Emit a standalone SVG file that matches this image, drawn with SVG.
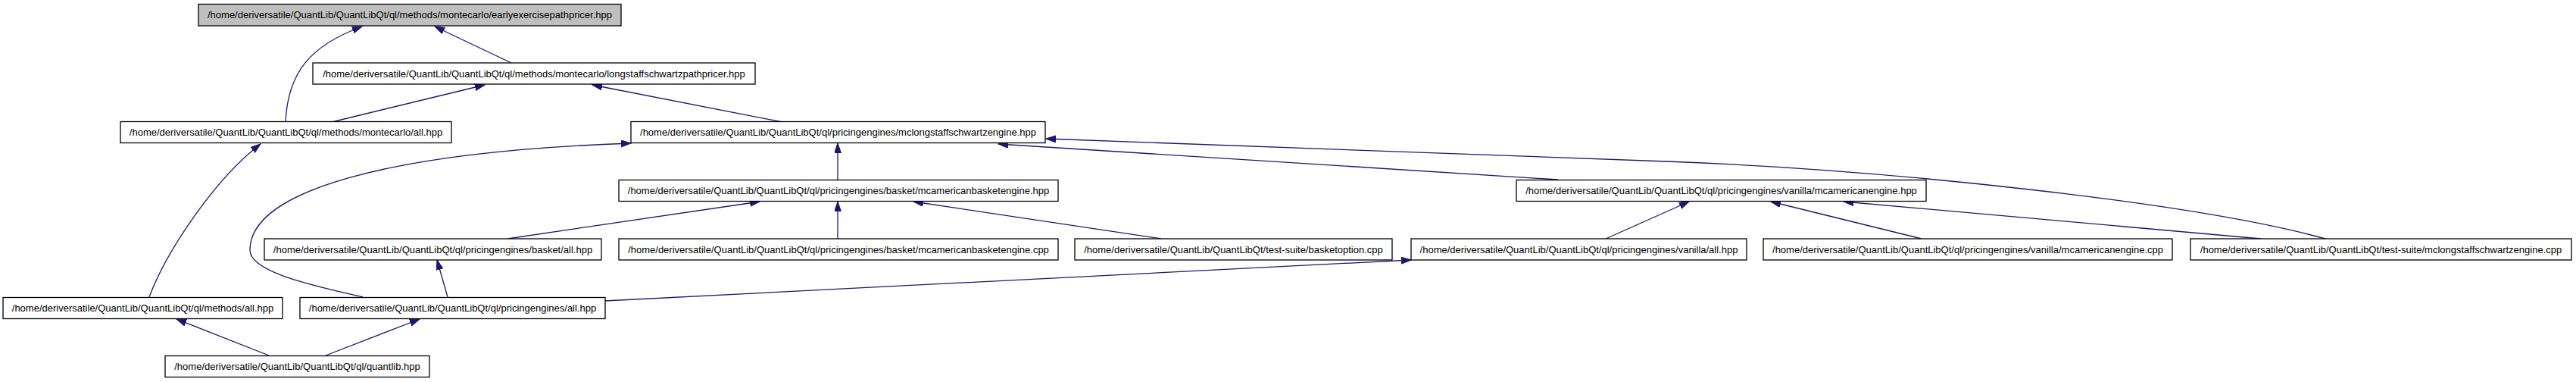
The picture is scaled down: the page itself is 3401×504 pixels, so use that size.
<svg xmlns="http://www.w3.org/2000/svg" width="3401" height="504" viewBox="0 0 3401 504">
<style>
.n rect{fill:#ffffff;stroke:#000000;stroke-width:1.3}
.n.root rect{fill:#bfbfbf}
.n text{font-family:"Liberation Sans",Arial,Helvetica,sans-serif;font-size:13px;fill:#000000;text-anchor:middle}
.e path{fill:none;stroke:#191970;stroke-width:1.3;marker-end:url(#ah)}
</style>
<defs>
<marker id="ah" markerUnits="userSpaceOnUse" markerWidth="14" markerHeight="10" refX="13" refY="4.5" orient="auto">
<path d="M0,0 L13,4.5 L0,9 z" fill="#191970" stroke="#191970" stroke-width="1"/>
</marker>
</defs>
<rect x="0" y="0" width="3401" height="504" fill="#ffffff"/>
<g id="connectors" class="e">
<path d="M377,161 C380,95 410,60 478,35"/>
<path d="M675,83 L574,35"/>
<path d="M438,161 L640,112"/>
<path d="M1033,161 L782,112"/>
<path d="M197,392 C220,330 285,235 344,190"/>
<path d="M479,392 C420,378 330,360 330,330 C330,250 520,200 833,189"/>
<path d="M1106,237 L1106,189"/>
<path d="M2057,237 L1318,190"/>
<path d="M3070,315 C2900,268 2500,224 2200,213 L1381,183"/>
<path d="M670,315 L1003,266"/>
<path d="M1106,315 L1106,266"/>
<path d="M1533,315 L1206,266"/>
<path d="M591,392 L577,343"/>
<path d="M798,397 L1863,343"/>
<path d="M2120,315 L2230,266"/>
<path d="M2537,315 L2338,266"/>
<path d="M2985,315 L2434,266"/>
<path d="M355,469 L233,421"/>
<path d="M430,469 L554,421"/>
</g>
<g id="n_earlyexercisepathpricer" class="n root"><rect x="262" y="5.5" width="558" height="28.5"/><text x="541" y="24.3">/home/deriversatile/QuantLib/QuantLibQt/ql/methods/montecarlo/earlyexercisepathpricer.hpp</text></g>
<g id="n_longstaffschwartzpathpricer" class="n"><rect x="413" y="83" width="584" height="28"/><text x="705" y="101.5">/home/deriversatile/QuantLib/QuantLibQt/ql/methods/montecarlo/longstaffschwartzpathpricer.hpp</text></g>
<g id="n_montecarlo_all" class="n"><rect x="159" y="160.5" width="437" height="28"/><text x="377.5" y="179">/home/deriversatile/QuantLib/QuantLibQt/ql/methods/montecarlo/all.hpp</text></g>
<g id="n_mclongstaffschwartzengine_hpp" class="n"><rect x="833" y="160.5" width="547" height="28"/><text x="1106.5" y="179">/home/deriversatile/QuantLib/QuantLibQt/ql/pricingengines/mclongstaffschwartzengine.hpp</text></g>
<g id="n_mcamericanbasketengine_hpp" class="n"><rect x="817" y="237.5" width="580" height="28"/><text x="1107" y="256">/home/deriversatile/QuantLib/QuantLibQt/ql/pricingengines/basket/mcamericanbasketengine.hpp</text></g>
<g id="n_mcamericanengine_hpp" class="n"><rect x="2002" y="237.5" width="541" height="28"/><text x="2272.5" y="256">/home/deriversatile/QuantLib/QuantLibQt/ql/pricingengines/vanilla/mcamericanengine.hpp</text></g>
<g id="n_basket_all" class="n"><rect x="349" y="315" width="445" height="28"/><text x="571.5" y="333.5">/home/deriversatile/QuantLib/QuantLibQt/ql/pricingengines/basket/all.hpp</text></g>
<g id="n_mcamericanbasketengine_cpp" class="n"><rect x="817" y="315" width="580" height="28"/><text x="1107" y="333.5">/home/deriversatile/QuantLib/QuantLibQt/ql/pricingengines/basket/mcamericanbasketengine.cpp</text></g>
<g id="n_basketoption_cpp" class="n"><rect x="1419" y="315" width="419" height="28"/><text x="1628.5" y="333.5">/home/deriversatile/QuantLib/QuantLibQt/test-suite/basketoption.cpp</text></g>
<g id="n_vanilla_all" class="n"><rect x="1863" y="315" width="443" height="28"/><text x="2084.5" y="333.5">/home/deriversatile/QuantLib/QuantLibQt/ql/pricingengines/vanilla/all.hpp</text></g>
<g id="n_mcamericanengine_cpp" class="n"><rect x="2328" y="315" width="540" height="28"/><text x="2598" y="333.5">/home/deriversatile/QuantLib/QuantLibQt/ql/pricingengines/vanilla/mcamericanengine.cpp</text></g>
<g id="n_mclongstaffschwartzengine_cpp" class="n"><rect x="2892" y="315" width="503" height="28"/><text x="3143.5" y="333.5">/home/deriversatile/QuantLib/QuantLibQt/test-suite/mclongstaffschwartzengine.cpp</text></g>
<g id="n_methods_all" class="n"><rect x="4" y="392.5" width="369" height="28"/><text x="188.5" y="411">/home/deriversatile/QuantLib/QuantLibQt/ql/methods/all.hpp</text></g>
<g id="n_pricingengines_all" class="n"><rect x="396" y="392.5" width="403" height="28"/><text x="597.5" y="411">/home/deriversatile/QuantLib/QuantLibQt/ql/pricingengines/all.hpp</text></g>
<g id="n_quantlib" class="n"><rect x="218" y="469.5" width="349" height="28"/><text x="392.5" y="488">/home/deriversatile/QuantLib/QuantLibQt/ql/quantlib.hpp</text></g>
</svg>
